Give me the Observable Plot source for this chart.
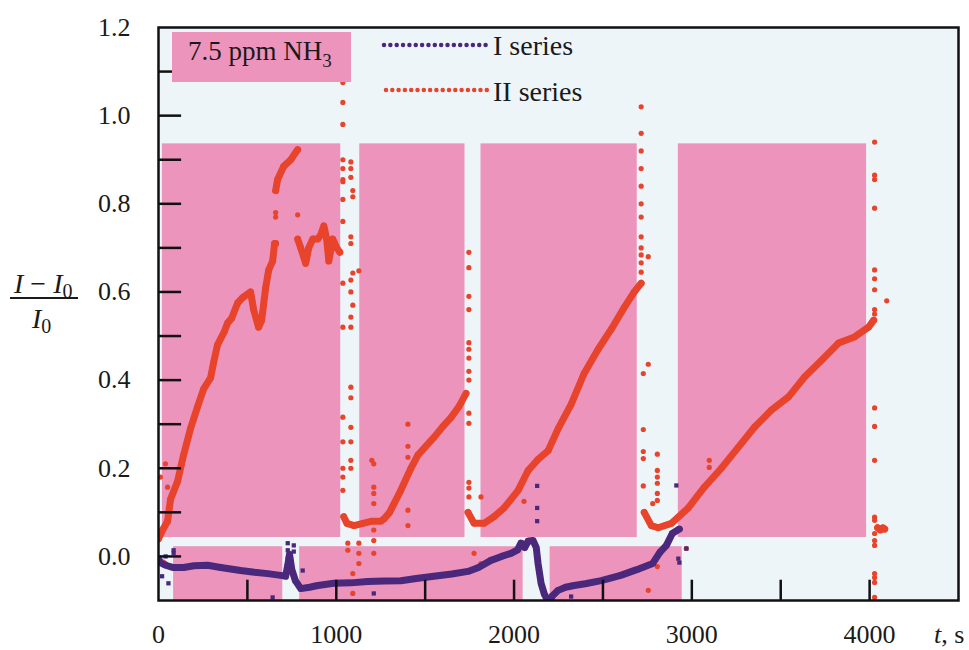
<!DOCTYPE html>
<html><head><meta charset="utf-8">
<script src="https://cdn.jsdelivr.net/npm/d3@7"></script>
<script src="https://cdn.jsdelivr.net/npm/@observablehq/plot@0.6"></script>
<style>
body{margin:0;background:#fff;}
#wrap{position:relative;width:969px;height:650px;font-family:"Liberation Serif","Times New Roman",serif;}
#wrap svg.ov{position:absolute;left:0;top:0;pointer-events:none;}
</style></head><body><div id="wrap"></div>
<script>
// ---- gas exposure windows (pink) ----
const upperStart = [22, 1132, 1814, 2924];
const upperEnd   = [1025, 1724, 2693, 3983];
const upperLow = 0.043, upperHigh = 0.936;
const lowerStart = [85, 794, 2203];
const lowerEnd   = [699, 2051, 2946];
const lowerLow = -0.1, lowerHigh = 0.022;

// ---- tick values ----
const yLabelTicks = [0, 0.2, 0.4, 0.6, 0.8, 1.0, 1.2];
const yMinorTicks = [0, 0.1, 0.2, 0.3, 0.4, 0.5, 0.6, 0.7, 0.8, 0.9, 1.0, 1.1];
const xLabelTicks = [0, 1000, 2000, 3000, 4000];
const xMinorTicks = [500, 1000, 1500, 2000, 2500, 3000, 3500, 4000];

// ---- I series (main trace) ----
const I_t = [0, 11, 39, 80, 141, 200, 276, 350, 462, 540, 614, 687, 715, 727, 737, 750, 770, 800, 850, 896, 986, 1082, 1177, 1270, 1363, 1450, 1549, 1650, 1741, 1800, 1870, 1930, 1983, 2020, 2039, 2060, 2080, 2107, 2125, 2135, 2152, 2170, 2180, 2200, 2215, 2248, 2290, 2338, 2400, 2490, 2600, 2690, 2780, 2820, 2857, 2890, 2930];
const I_y = [-0.005, -0.014, -0.02, -0.025, -0.025, -0.021, -0.02, -0.025, -0.032, -0.036, -0.039, -0.043, -0.045, -0.02, 0.005, -0.03, -0.055, -0.073, -0.07, -0.066, -0.061, -0.06, -0.057, -0.056, -0.055, -0.05, -0.045, -0.04, -0.034, -0.025, -0.009, 0.0, 0.007, 0.015, 0.03, 0.02, 0.035, 0.036, 0.02, -0.016, -0.061, -0.085, -0.093, -0.1, -0.09, -0.077, -0.07, -0.066, -0.062, -0.055, -0.043, -0.03, -0.016, 0.009, 0.025, 0.052, 0.062];
// I series outliers
const Io_t = [20, 40, 85, 85, 56, 642, 727, 727, 727, 761, 761, 811, 1211, 2130, 2130, 2130, 2321, 2913, 2969, 2924, 2930];
const Io_y = [-0.045, 0.0, 0.014, 0.008, -0.061, -0.093, 0.03, 0.014, -0.005, 0.025, 0.011, -0.032, -0.084, 0.16, 0.11, 0.08, -0.091, 0.161, 0.018, -0.005, -0.014];

// ---- II series (main trace, by segment) ----
const II_t = [
  0, 23, 51, 68, 107, 141, 180, 220, 254, 293, 310, 332, 370, 389, 411, 445, 473, 518, 535, 563, 580, 603, 620, 642, 653, 659,
  659, 670, 704, 744, 783,
  783, 800, 828, 845, 868, 896, 913, 930, 946, 958, 980, 1003, 1020,
  1042, 1060, 1100, 1150, 1200, 1251, 1268, 1300, 1363, 1420, 1459, 1549, 1600, 1645, 1690, 1730,
  1741, 1775, 1831, 1887, 1944, 2023, 2079, 2135, 2192, 2248, 2321, 2394, 2473, 2546, 2620, 2676, 2715,
  2732, 2772, 2811, 2885, 2980, 3070, 3166, 3262, 3352, 3448, 3544, 3634, 3730, 3825, 3915, 3994, 4023,
  4045, 4060, 4075, 4085
];
const II_y = [
  0.04, 0.06, 0.08, 0.13, 0.17, 0.23, 0.29, 0.34, 0.38, 0.405, 0.44, 0.48, 0.51, 0.53, 0.54, 0.575, 0.587, 0.6, 0.56, 0.52, 0.535, 0.61, 0.65, 0.67, 0.71, 0.71,
  0.83, 0.855, 0.885, 0.9, 0.923,
  0.72, 0.70, 0.665, 0.70, 0.72, 0.72, 0.73, 0.75, 0.72, 0.67, 0.72, 0.70, 0.69,
  0.09, 0.075, 0.07, 0.075, 0.08, 0.08, 0.085, 0.10, 0.15, 0.20, 0.23, 0.27, 0.295, 0.315, 0.34, 0.37,
  0.10, 0.075, 0.075, 0.09, 0.11, 0.15, 0.195, 0.22, 0.24, 0.29, 0.345, 0.415, 0.47, 0.515, 0.565, 0.60, 0.62,
  0.10, 0.07, 0.065, 0.075, 0.11, 0.157, 0.20, 0.248, 0.293, 0.332, 0.362, 0.407, 0.445, 0.484, 0.498, 0.52, 0.536,
  0.065, 0.06, 0.065, 0.062
];
const II_seg = [
  ...Array(26).fill("a"), ...Array(5).fill("b"), ...Array(13).fill("c"),
  ...Array(16).fill("d"), ...Array(17).fill("e"), ...Array(17).fill("f"), ...Array(4).fill("g")
];
// II series outliers (t, value)
const IIo_t = [
  11, 39, 51, 28, 39,
  659, 659, 783,
  1037, 1037, 1037, 1037, 1037, 1037, 1037, 1037, 1037, 1037, 1037, 1037, 1037, 1037, 1037, 1037,
  1082, 1082, 1082, 1082, 1082, 1082, 1082, 1082, 1082, 1082, 1082, 1082, 1082, 1082, 1082,
  1093, 1093, 1093, 1093, 1093, 1093, 1093,
  1127, 1127, 1127, 1127, 1065, 1065,
  1200, 1211, 1211, 1211, 1211, 1211, 1211, 1211,
  1403, 1403, 1403, 1403, 1403,
  1746, 1746, 1746, 1746, 1746, 1746, 1746, 1746, 1746, 1746, 1746, 1746, 1746, 1746,
  1814, 1814, 1775, 2056, 2056,
  2715, 2715, 2715, 2715, 2715, 2715, 2715, 2715, 2715, 2715, 2715, 2715,
  2755, 2755, 2727, 2727, 2727, 2727, 2727,
  2806, 2806, 2806, 2806, 2806, 2806, 2806, 2780, 2755, 2969, 3098, 3098,
  4028, 4028, 4028, 4028, 4028, 4028, 4028, 4028, 4028, 4028, 4028, 4028, 4028, 4028, 4028, 4028, 4028, 4028, 4028, 4028, 4028,
  4096
];
const IIo_y = [
  0.18, 0.21, 0.157, -0.013, -0.016,
  0.77, 0.78, 0.775,
  1.075, 1.03, 0.98, 0.90, 0.88, 0.855, 0.85, 0.81, 0.76, 0.62, 0.52, 0.316, 0.26, 0.20, 0.18, 0.15,
  0.895, 0.88, 0.86, 0.725, 0.71, 0.627, 0.60, 0.543, 0.52, 0.384, 0.36, 0.293, 0.26, 0.218, 0.20,
  0.83, 0.816, 0.643, 0.57, -0.039, -0.06, -0.084,
  0.648, 0.03, 0.007, -0.016, 0.03, 0.014,
  0.218, 0.21, 0.157, 0.143, 0.12, 0.06, 0.036, 0.007,
  0.30, 0.25, 0.225, 0.105, 0.07,
  0.69, 0.655, 0.59, 0.56, 0.485, 0.47, 0.45, 0.42, 0.40, 0.325, 0.302, 0.168, 0.155, 0.135,
  0.135, -0.016, 0.007, 0.125, 0.03,
  1.02, 0.96, 0.92, 0.88, 0.84, 0.80, 0.77, 0.725, 0.70, 0.684, 0.666, 0.645,
  0.68, 0.436, 0.415, 0.288, 0.238, 0.222, 0.16,
  0.232, 0.195, 0.18, 0.166, 0.143, 0.127, -0.023, 0.12, -0.077, 0.018, 0.218, 0.202,
  0.94, 0.865, 0.855, 0.79, 0.65, 0.63, 0.605, 0.56, 0.55, 0.337, 0.295, 0.218, 0.089, 0.082, 0.052, 0.036, 0.025, -0.039, -0.048, -0.059, -0.093,
  0.58
];

const seriesNames = ["I series", "II series"];
const colorI = "#4a287c", colorII = "#e8442b", pink = "#ec94bb", bg = "#edf5f9";

// ---- tables ----
const upper = upperStart.map((s, i) => ({x1: s, x2: upperEnd[i], y1: upperLow, y2: upperHigh}));
const lower = lowerStart.map((s, i) => ({x1: s, x2: lowerEnd[i], y1: lowerLow, y2: lowerHigh}));
const I = I_t.map((t, i) => ({t, v: I_y[i]}));
const Io = Io_t.map((t, i) => ({t, v: Io_y[i]}));
const II = II_t.map((t, i) => ({t, v: II_y[i], s: II_seg[i]}));
const IIo = IIo_t.map((t, i) => ({t, v: IIo_y[i]}));

const yTickLen = 130;   // in t units (~23px)
const xTickLen = 0.046; // in value units (~20px)

const chart = Plot.plot({
  width: 969, height: 650,
  marginLeft: 158, marginRight: 11, marginTop: 27, marginBottom: 50,
  style: {fontFamily: "'Liberation Serif','Times New Roman',serif", fontSize: "26px", color: "#1a1a1a", background: "transparent"},
  x: {domain: [0, 4500]},
  y: {domain: [-0.1, 1.2]},
  marks: [
    Plot.frame({fill: bg}),
    Plot.rect(upper, {x1: "x1", x2: "x2", y1: "y1", y2: "y2", fill: pink}),
    Plot.rect(lower, {x1: "x1", x2: "x2", y1: "y1", y2: "y2", fill: pink}),
    Plot.line(II, {x: "t", y: "v", z: "s", stroke: colorII, strokeWidth: 7, clip: true}),
    Plot.dot(II, {x: "t", y: "v", r: 3.2, fill: colorII, clip: true}),
    Plot.dot(IIo, {x: "t", y: "v", r: 2.6, fill: colorII, clip: true}),
    Plot.line(I, {x: "t", y: "v", stroke: colorI, strokeWidth: 7, clip: true}),
    Plot.dot(I, {x: "t", y: "v", symbol: "square", r: 3, fill: colorI, clip: true}),
    Plot.dot(Io, {x: "t", y: "v", symbol: "square", r: 2.4, fill: colorI, clip: true}),
    Plot.ruleY(yMinorTicks, {x1: 0, x2: yTickLen, stroke: "#111", strokeWidth: 2.5}),
    Plot.ruleX(xMinorTicks, {y1: -0.1, y2: -0.1 + xTickLen, stroke: "#111", strokeWidth: 2.5}),
    Plot.frame({stroke: "#111", strokeWidth: 2.5}),
    Plot.axisY({ticks: yLabelTicks, tickSize: 0, tickPadding: 28, tickFormat: d3.format(".1f"), label: null}),
    Plot.axisX({ticks: xLabelTicks, tickSize: 0, tickPadding: 24, tickFormat: d => String(d), label: null})
  ]
});
const wrap = document.getElementById("wrap");
wrap.appendChild(chart);

// ---- overlay: annotation, legend, axis titles ----
const ns = "http://www.w3.org/2000/svg";
const ov = document.createElementNS(ns, "svg");
ov.setAttribute("class", "ov");
ov.setAttribute("width", 969); ov.setAttribute("height", 650);
ov.innerHTML = `
  <rect x="172" y="32" width="179" height="50" fill="${pink}"/>
  <text x="188" y="60" font-size="27" fill="#1a1a1a">7.5 ppm NH<tspan font-size="19" dy="7">3</tspan></text>
  <line x1="384" y1="45" x2="486" y2="45" stroke="${colorI}" stroke-width="4.5" stroke-linecap="round" stroke-dasharray="0 6.35"/>
  <text x="493" y="55" font-size="28" fill="#1a1a1a">${seriesNames[0]}</text>
  <line x1="386" y1="90" x2="487" y2="90" stroke="${colorII}" stroke-width="4.5" stroke-linecap="round" stroke-dasharray="0 6.3"/>
  <text x="493" y="101" font-size="28" fill="#1a1a1a">${seriesNames[1]}</text>
  <text x="14" y="293" font-size="28" fill="#1a1a1a" font-style="italic">I<tspan font-style="normal"> − </tspan>I<tspan font-size="20" dy="5" font-style="normal">0</tspan></text>
  <line x1="10" y1="298" x2="78" y2="298" stroke="#1a1a1a" stroke-width="2"/>
  <text x="32" y="328" font-size="28" fill="#1a1a1a" font-style="italic">I<tspan font-size="20" dy="5" font-style="normal">0</tspan></text>
  <text x="934" y="643" font-size="26" fill="#1a1a1a"><tspan font-style="italic">t</tspan>, s</text>
`;
wrap.appendChild(ov);
</script>
</body></html>
